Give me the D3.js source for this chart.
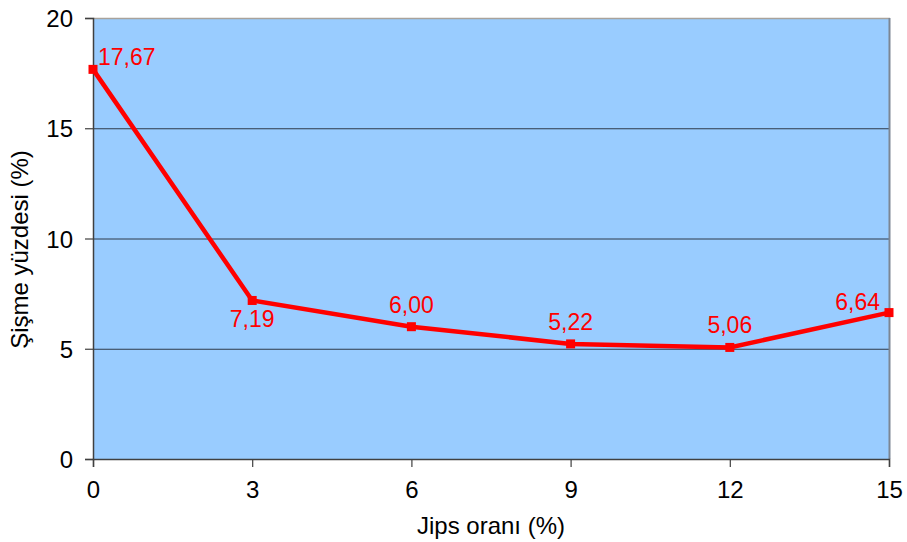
<!DOCTYPE html>
<html><head><meta charset="utf-8">
<script src="https://cdn.jsdelivr.net/npm/d3@7"></script>
<style>body{margin:0;background:#fff}svg{display:block;font-family:"Liberation Sans",Arial,sans-serif}</style>
</head><body>
<svg id="c" width="907" height="542"></svg>
<script>
const xValues = [0, 3, 6, 9, 12, 15];
const yValues = [17.67, 7.19, 6.00, 5.22, 5.06, 6.64];
const valueLabels = ["17,67", "7,19", "6,00", "5,22", "5,06", "6,64"];
const labelPlacement = ["right", "below", "above", "above", "above", "left"];
const yTicks = [0, 5, 10, 15, 20];
const xTicks = [0, 3, 6, 9, 12, 15];
const xTitle = "Jips oranı (%)";
const yTitle = "Şişme yüzdesi (%)";

const svg = d3.select("#c");
const L = 93, R = 889, T = 18, B = 459;
const x = d3.scaleLinear().domain([0, 15]).range([L, R]);
const y = d3.scaleLinear().domain([0, 20]).range([B, T]);

svg.append("rect").attr("x", L).attr("y", T).attr("width", R - L).attr("height", B - T).attr("fill", "#99CCFF");

// gridlines
svg.append("g").selectAll("line").data(yTicks.filter(d => d > 0 && d < 20)).join("line")
  .attr("x1", L).attr("x2", R).attr("y1", d => y(d) + 0.5).attr("y2", d => y(d) + 0.5)
  .attr("stroke", "#2f3a4a").attr("stroke-width", 1);

// frame top & right
svg.append("line").attr("x1", L).attr("x2", R + 1).attr("y1", T + 0.5).attr("y2", T + 0.5).attr("stroke", "#a8a29c").attr("stroke-width", 1.5);
svg.append("line").attr("x1", R + 0.5).attr("x2", R + 0.5).attr("y1", T).attr("y2", B).attr("stroke", "#7c8694").attr("stroke-width", 2);

// axes
const yAxis = d3.axisLeft(y).tickValues(yTicks).tickSize(8).tickPadding(12).tickFormat(d3.format("d"));
const xAxis = d3.axisBottom(x).tickValues(xTicks).tickSize(8).tickPadding(14).tickFormat(d3.format("d"));
const gy = svg.append("g").attr("transform", `translate(${L},0)`).call(yAxis);
const gx = svg.append("g").attr("transform", `translate(0,${B})`).call(xAxis);
[gy, gx].forEach(g => {
  g.select(".domain").attr("stroke", "#404040").attr("stroke-width", 1.5);
  g.selectAll(".tick line").attr("stroke", "#404040").attr("stroke-width", 1.2);
  g.selectAll(".tick text").attr("fill", "#000").style("font-size", "24px").style("font-family", '"Liberation Sans",Arial,sans-serif');
});
gy.selectAll(".tick text").attr("dy", "0.36em");

// line
const line = d3.line().x((d, i) => x(xValues[i])).y(d => y(d));
svg.append("path").datum(yValues).attr("d", line).attr("fill", "none")
  .attr("stroke", "#FF0000").attr("stroke-width", 4.5).attr("stroke-linejoin", "miter");

// markers
const ms = 9;
svg.append("g").selectAll("rect").data(yValues).join("rect")
  .attr("x", (d, i) => x(xValues[i]) - ms / 2).attr("y", d => y(d) - ms / 2)
  .attr("width", ms).attr("height", ms).attr("fill", "#FF0000");

// labels
svg.append("g").selectAll("text").data(yValues).join("text")
  .attr("x", (d, i) => {
    const p = labelPlacement[i], px = x(xValues[i]);
    return p === "right" ? px + 5 : p === "left" ? px - 9 : px;
  })
  .attr("y", (d, i) => {
    const p = labelPlacement[i], py = y(d);
    return p === "below" ? py + 27 : p === "above" ? py - 14 : p === "right" ? py - 4 : py - 3;
  })
  .attr("text-anchor", (d, i) => labelPlacement[i] === "right" ? "start" : labelPlacement[i] === "left" ? "end" : "middle")
  .attr("fill", "#FF0000").style("font-size", "23px")
  .text((d, i) => valueLabels[i]);

// titles
svg.append("text").attr("x", (L + R) / 2).attr("y", 534).attr("text-anchor", "middle")
  .style("font-size", "24px").attr("fill", "#000").text(xTitle);
svg.append("text").attr("transform", `translate(28,${(T + B) / 2 + 11}) rotate(-90)`).attr("text-anchor", "middle")
  .style("font-size", "24px").attr("fill", "#000").text(yTitle);
</script>
</body></html>
